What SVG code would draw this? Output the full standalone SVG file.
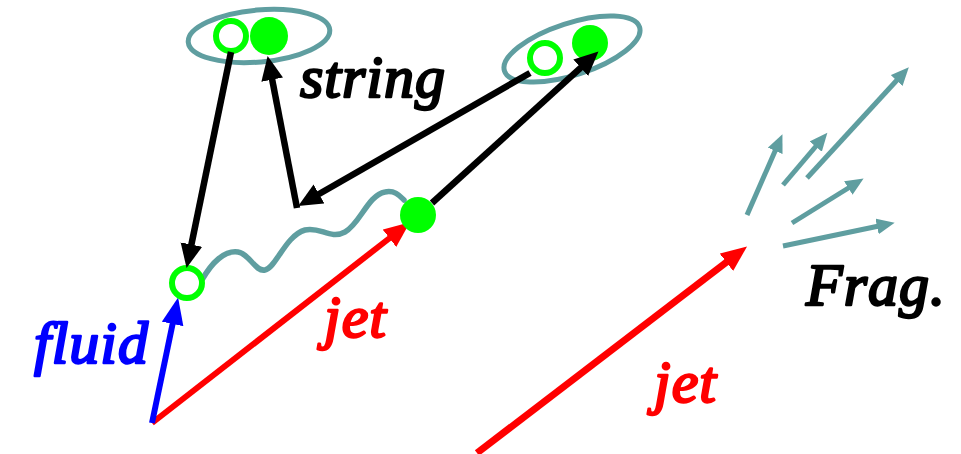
<svg xmlns="http://www.w3.org/2000/svg" width="961" height="454" viewBox="0 0 961 454">
  <style>
    text { font-family: 'Liberation Serif', serif; font-style: italic; font-size: 60px; letter-spacing: 1px; stroke-width: 2.4; stroke-linejoin: round; }
    .teal { stroke: #5F9EA0; fill: none; }
    .blk { stroke: #000; stroke-width: 6.5; fill: none; }
    .frag { stroke: #5F9EA0; stroke-width: 5; fill: none; marker-end: url(#headTeal); }
    .open { fill: #fff; stroke: #00FF00; stroke-width: 6; }
    .full { fill: #00FF00; }
  </style>
  <defs>
    <marker id="headBlack" markerUnits="userSpaceOnUse" markerWidth="26" markerHeight="24" refX="2" refY="11" orient="auto">
      <path d="M0,0 L24,11 L0,22 z" fill="#000"/>
    </marker>
    <marker id="headRed" markerUnits="userSpaceOnUse" markerWidth="28" markerHeight="24" refX="2" refY="11" orient="auto">
      <path d="M0,0 L26,11 L0,22 z" fill="#FF0000"/>
    </marker>
    <marker id="headBlue" markerUnits="userSpaceOnUse" markerWidth="28" markerHeight="24" refX="2" refY="11" orient="auto">
      <path d="M0,0 L27,11 L0,22 z" fill="#0000FF"/>
    </marker>
    <marker id="headTeal" markerUnits="userSpaceOnUse" markerWidth="20" markerHeight="18" refX="2" refY="8" orient="auto">
      <path d="M0,0 L18,8 L0,16 z" fill="#5F9EA0"/>
    </marker>
  </defs>

  <!-- momentum vectors -->
  <g id="vectors">
    <path d="M152,423 L391,237" stroke="#FF0000" stroke-width="6" fill="none" marker-end="url(#headRed)"/>
    <path d="M152,423 L173,322" stroke="#0000FF" stroke-width="6" fill="none" marker-end="url(#headBlue)"/>
    <path d="M477,453 L728,261" stroke="#FF0000" stroke-width="7" fill="none" marker-end="url(#headRed)"/>
  </g>

  <!-- string between parton ends -->
  <g id="string">
    <path class="teal" stroke-width="5.5" stroke-linecap="round"
          d="M202,280 C212,262 225,250 238,252 C250,254 255,272 265,270 C276,268 285,236 305,230 C320,226 330,240 345,232 C360,224 368,195 385,192 C395,190 400,196 404,200"/>
  </g>

  <!-- hadron pairs -->
  <g id="pair-left">
    <ellipse class="teal" stroke-width="5" cx="259" cy="36" rx="71" ry="26" transform="rotate(-5 259 36)"/>
    <circle class="open" cx="231" cy="36" r="15"/>
    <circle class="full" cx="269" cy="36" r="19"/>
  </g>
  <g id="pair-right">
    <ellipse class="teal" stroke-width="5" cx="572" cy="49" rx="71" ry="26" transform="rotate(-18 572 49)"/>
    <circle class="open" cx="545" cy="58" r="15"/>
    <circle class="full" cx="590" cy="43" r="18"/>
  </g>

  <!-- string end points -->
  <g id="end-open">
    <circle class="open" cx="187" cy="283" r="15"/>
  </g>
  <g id="end-full">
    <circle class="full" cx="418" cy="215" r="18"/>
  </g>

  <!-- recombination connectors -->
  <g id="connectors">
    <path class="blk" d="M231,52 L191,246.5" marker-end="url(#headBlack)"/>
    <path class="blk" d="M297,208 L271.8,77.7" marker-end="url(#headBlack)"/>
    <path class="blk" d="M530,73 L317.3,195" marker-end="url(#headBlack)"/>
    <path class="blk" d="M432,203 L582.2,66.4" marker-end="url(#headBlack)"/>
  </g>

  <!-- fragmentation spray -->
  <g id="fragments">
    <path class="frag" d="M747,215 L776,149"/>
    <path class="frag" d="M783,185 L817,145"/>
    <path class="frag" d="M807,178 L898,79"/>
    <path class="frag" d="M792,223 L850,187"/>
    <path class="frag" d="M783,246 L879,226"/>
  </g>

  <!-- labels (heavier italic via matching outline) -->
  <g id="labels">
    <text x="300" y="97" fill="#000" stroke="#000">string</text>
    <text x="34" y="363" fill="#0000FF" stroke="#0000FF">fluid</text>
    <text x="324" y="337" fill="#FF0000" stroke="#FF0000">jet</text>
    <text x="654" y="402" fill="#FF0000" stroke="#FF0000">jet</text>
    <text x="806" y="305" fill="#000" stroke="#000">Frag.</text>
  </g>
</svg>
